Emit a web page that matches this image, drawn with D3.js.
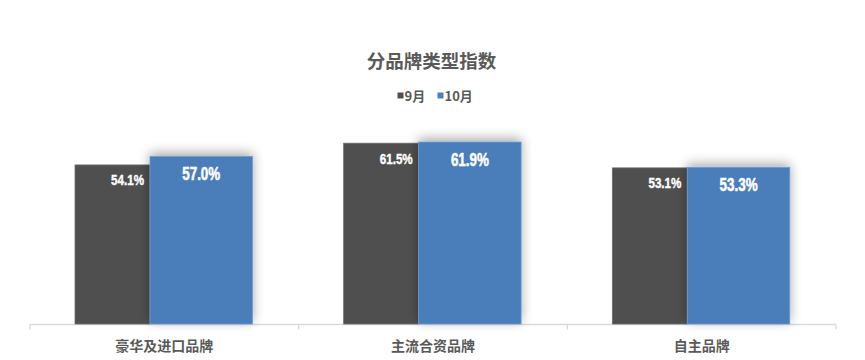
<!DOCTYPE html>
<html><head><meta charset="utf-8">
<script src="https://cdn.jsdelivr.net/npm/d3@7"></script>
<style>
html,body{margin:0;padding:0;background:#fff;}
svg{display:block;}
</style></head>
<body>
<svg id="chart" width="865" height="360"></svg>
<script>
const categories = ["豪华及进口品牌", "主流合资品牌", "自主品牌"];
const seriesNames = ["9月", "10月"];
const sep = [54.1, 61.5, 53.1];
const oct = [57.0, 61.9, 53.3];
const colors = ["#4f4f4f", "#4a7ebb"];

const svg = d3.select("#chart");
const cjk = "'Noto Sans CJK SC','Microsoft YaHei',sans-serif";
const numFont = "'Liberation Sans',Arial,sans-serif";

const defs = svg.append("defs");
const f = defs.append("filter").attr("id","sh").attr("x","-30%").attr("y","-30%").attr("width","160%").attr("height","160%");
f.append("feGaussianBlur").attr("in","SourceAlpha").attr("stdDeviation",6).attr("result","b");
f.append("feOffset").attr("in","b").attr("dy",-3).attr("result","o");
f.append("feComponentTransfer").attr("in","o").attr("result","c")
  .append("feFuncA").attr("type","linear").attr("slope",0.35);
const m = f.append("feMerge");
m.append("feMergeNode").attr("in","c");
m.append("feMergeNode").attr("in","SourceGraphic");

const x = d3.scaleBand().domain(categories).range([30, 836]).padding(0);
const y = d3.scaleLinear().domain([0, 70]).range([324, 118.2]);
const inner = d3.scaleLinear().domain([0, 1]).range([0, x.bandwidth()]);
const darkL = 0.1675, split = 0.4466, blueR = 0.828;

// title
svg.append("text").attr("x", 431.5).attr("y", 67.5).attr("text-anchor","middle")
  .style("font-family", cjk).style("font-weight","bold").style("font-size","18.5px")
  .attr("fill","#595959").text("分品牌类型指数");

// legend
const lg = svg.append("g");
const legendX = [397.5, 437.5];
seriesNames.forEach((n,i)=>{
  lg.append("rect").attr("x", legendX[i]).attr("y", 92.5).attr("width",6).attr("height",6).attr("fill", colors[i]);
  lg.append("text").attr("x", legendX[i]+7).attr("y", 100.5)
    .style("font-family", cjk).style("font-weight","bold").style("font-size","13px")
    .attr("fill","#595959").text(n);
});

// axis
const axisG = svg.append("g").attr("transform","translate(0,324.5)");
axisG.append("line").attr("x1",30).attr("x2",836).attr("stroke","#d9d9d9").attr("stroke-width",1.3);
const ticks = categories.map(c=>x(c)).concat([836]);
axisG.selectAll(".tk").data(ticks).enter().append("line")
  .attr("x1",d=>d).attr("x2",d=>d).attr("y1",0).attr("y2",5).attr("stroke","#d9d9d9").attr("stroke-width",1.3);

// bars
const g = svg.append("g");
categories.forEach((c,i)=>{
  const b = x(c);
  g.append("rect").attr("x", b+inner(darkL)).attr("width", inner(split)-inner(darkL))
    .attr("y", y(sep[i])).attr("height", y(0)-y(sep[i])).attr("fill", colors[0])
    .attr("stroke","#6b6b6b").attr("stroke-width",0.8);
});
categories.forEach((c,i)=>{
  const b = x(c);
  g.append("rect").attr("x", b+inner(split)).attr("width", inner(blueR)-inner(split))
    .attr("y", y(oct[i])).attr("height", y(0)-y(oct[i])).attr("fill", colors[1])
    .attr("stroke","#6d9bd1").attr("stroke-width",0.8).attr("filter","url(#sh)");
});
// labels
categories.forEach((c,i)=>{
  const b = x(c);
  g.append("g").attr("transform", `translate(${b+inner(split)-6},${y(sep[i])+20.5}) scale(0.8,1)`)
    .append("text").attr("text-anchor","end")
    .style("font-family", numFont).style("font-weight","bold").style("font-size","14.5px")
    .style("stroke","#fff").style("stroke-width","0.4px")
    .attr("fill","#ffffff").text(sep[i].toFixed(1)+"%");
  g.append("g").attr("transform", `translate(${b+(inner(split)+inner(blueR))/2},${y(oct[i])+23.5}) scale(0.745,1)`)
    .append("text").attr("text-anchor","middle")
    .style("font-family", numFont).style("font-weight","bold").style("font-size","18px")
    .style("stroke","#fff").style("stroke-width","0.5px")
    .attr("fill","#ffffff").text(oct[i].toFixed(1)+"%");
  svg.append("text").attr("x", b+x.bandwidth()/2).attr("y", 350.5).attr("text-anchor","middle")
    .style("font-family", cjk).style("font-weight","bold").style("font-size","14px")
    .attr("fill","#595959").text(c);
});
</script>
</body></html>
